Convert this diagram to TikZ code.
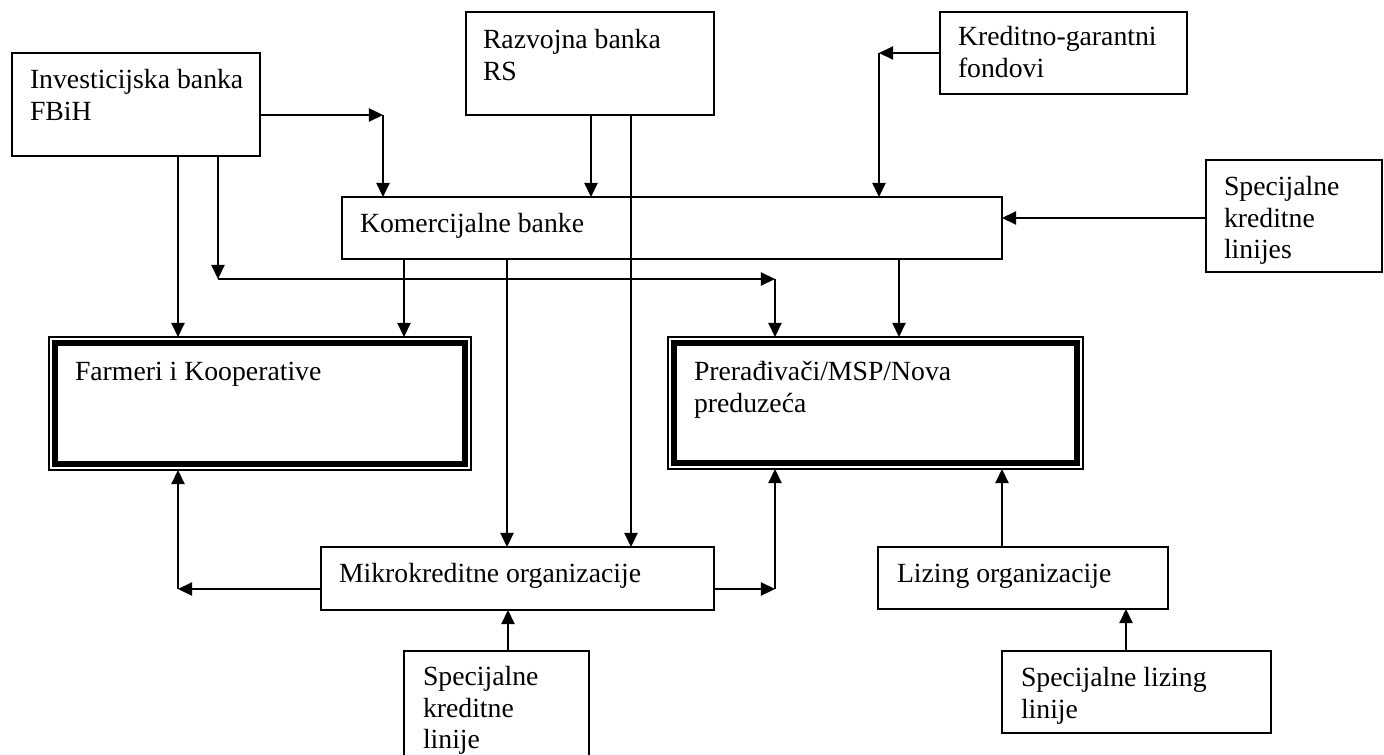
\documentclass[tikz,border=0pt]{standalone}
\usepackage{fontspec}
\setmainfont{Liberation Serif}
\usetikzlibrary{arrows.meta,fit,calc}

\begin{document}
\begin{tikzpicture}[x=0.44pt,y=-0.44pt,
  box/.style={draw,line width=0.75pt,inner sep=0pt,outer sep=0pt},
  dbox/.style={draw,line width=0.5pt,inner sep=0pt,outer sep=0pt},
  lbl/.style={anchor=north west,inner sep=0pt,outer sep=0pt,align=left,
              font=\fontsize{12.2}{14}\selectfont},
  arr/.style={line width=0.75pt,-{Triangle[length=6.2pt,width=5.8pt]}},
  thickrim/.style={line width=2.7pt}]

\useasboundingbox (0,0) rectangle (1384,755);
\clip (0,0) rectangle (1384,755);

% box helper: name, x1, y1, x2, y2 (pixel-like units, y downwards)
\newcommand\mkbox[6][box]{%
  \coordinate (#2-a) at (#3,#4);
  \coordinate (#2-b) at (#5,#6);
  \node[#1,fit=(#2-a)(#2-b)] (#2) {};}

% ---- boxes ----
\mkbox{inv}{12}{53}{260}{156}
\mkbox{raz}{466}{12}{714}{115}
\mkbox{kgf}{940}{12}{1187}{94}
\mkbox{kom}{342}{197}{1002}{259}
\mkbox{skl}{1206}{160}{1382}{272}
\mkbox[dbox]{far}{49}{337}{471}{470}
\mkbox[dbox]{pre}{668}{337}{1083}{469}
\mkbox{mik}{321}{547}{714}{610}
\mkbox{liz}{878}{547}{1168}{609}
\mkbox{sklb}{404}{651}{589}{790}
\mkbox{sll}{1002}{651}{1271}{733}

% heavy inner rims of the two target boxes
\draw[thickrim] ($(far.north west)+(6,6)$) rectangle ($(far.south east)+(-6,-6)$);
\draw[thickrim] ($(pre.north west)+(6,6)$) rectangle ($(pre.south east)+(-6,-6)$);

% ---- labels ----
\node[lbl] (inv-t)  at (30,66)   {\strut Investicijska banka\\FBiH};
\node[lbl] (raz-t)  at (483,26)  {\strut Razvojna banka\\RS};
\node[lbl] (kgf-t)  at (958,23)  {\strut Kreditno-garantni\\fondovi};
\node[lbl] (kom-t)  at (360,210) {\strut Komercijalne banke};
\node[lbl] (skl-t)  at (1224,173){\strut Specijalne\\kreditne\\linijes};
\node[lbl] (far-t)  at (75,358)  {\strut Farmeri i Kooperative};
\node[lbl] (pre-t)  at (694,358) {\strut Prerađivači/MSP/Nova\\preduzeća};
\node[lbl] (mik-t)  at (339,560) {\strut Mikrokreditne organizacije};
\node[lbl] (liz-t)  at (897,560) {\strut Lizing organizacije};
\node[lbl] (sklb-t) at (423,663) {\strut Specijalne\\kreditne\\linije};
\node[lbl] (sll-t)  at (1021,664){\strut Specijalne lizing\\linije};

% ---- routing points ----
\coordinate (j1)  at (383,115);
\coordinate (j3a) at (218,279);
\coordinate (j3b) at (775,279);
\coordinate (j6)  at (879,53);
\coordinate (j11) at (178,589);
\coordinate (j12) at (775,589);
\coordinate (x178) at (178,0);
\coordinate (x591) at (591,0);
\coordinate (x631) at (631,0);
\coordinate (y218) at (0,218);
\coordinate (x404) at (404,0);
\coordinate (x507) at (507,0);
\coordinate (x899) at (899,0);
\coordinate (x1002) at (1002,0);
\coordinate (x508) at (508,0);
\coordinate (x1126) at (1126,0);

% ---- connectors ----
\draw[arr] (inv.east |- j1) -- (j1);
\draw[arr] (j1) -- (j1 |- kom.north);
\draw[arr] (x178 |- inv.south) -- (x178 |- far.north);
\draw[arr] (j3a |- inv.south) -- (j3a);
\draw[arr] (j3a) -- (j3b);
\draw[arr] (j3b) -- (j3b |- pre.north);
\draw[arr] (x591 |- raz.south) -- (x591 |- kom.north);
\draw[arr] (x631 |- raz.south) -- (x631 |- mik.north);
\draw[arr] (kgf.west |- j6) -- (j6);
\draw[arr] (j6) -- (j6 |- kom.north);
\draw[arr] (skl.west |- y218) -- (kom.east |- y218);
\draw[arr] (x404 |- kom.south) -- (x404 |- far.north);
\draw[arr] (x507 |- kom.south) -- (x507 |- mik.north);
\draw[arr] (x899 |- kom.south) -- (x899 |- pre.north);
\draw[arr] (mik.west |- j11) -- (j11);
\draw[arr] (j11) -- (j11 |- far.south);
\draw[arr] (mik.east |- j12) -- (j12);
\draw[arr] (j12) -- (j12 |- pre.south);
\draw[arr] (x1002 |- liz.north) -- (x1002 |- pre.south);
\draw[arr] (x508 |- sklb.north) -- (x508 |- mik.south);
\draw[arr] (x1126 |- sll.north) -- (x1126 |- liz.south);
\end{tikzpicture}
\end{document}
